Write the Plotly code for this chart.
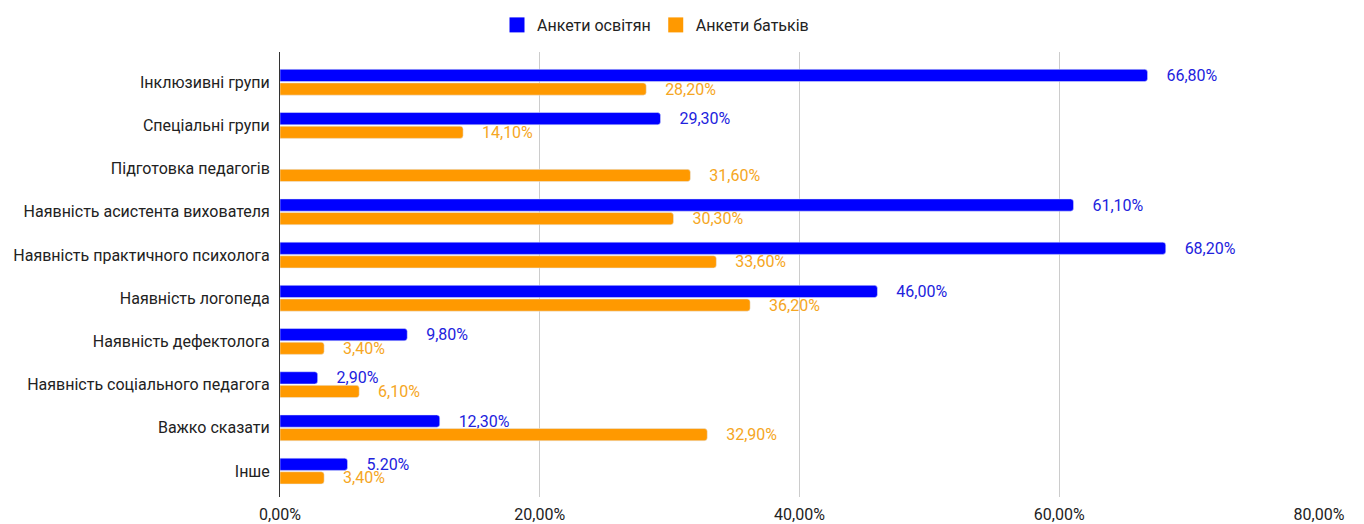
import plotly.graph_objects as go

categories = [
    "Інклюзивні групи",
    "Спеціальні групи",
    "Підготовка педагогів",
    "Наявність асистента вихователя",
    "Наявність практичного психолога",
    "Наявність логопеда",
    "Наявність дефектолога",
    "Наявність соціального педагога",
    "Важко сказати",
    "Інше",
]
teachers = [66.8, 29.3, None, 61.1, 68.2, 46.0, 9.8, 2.9, 12.3, 5.2]
teachers_text = ["66,80%", "29,30%", "", "61,10%", "68,20%", "46,00%", "9,80%", "2,90%", "12,30%", "5.20%"]
parents = [28.2, 14.1, 31.6, 30.3, 33.6, 36.2, 3.4, 6.1, 32.9, 3.4]
parents_text = ["28,20%", "14,10%", "31,60%", "30,30%", "33,60%", "36,20%", "3,40%", "6,10%", "32,90%", "3,40%"]
tick_values = [0, 20, 40, 60, 80]
tick_labels = ["0,00%", "20,00%", "40,00%", "60,00%", "80,00%"]

BLUE = "#0000ff"
ORANGE = "#ff9900"
pad = "\u00a0" * 4

fig = go.Figure()
fig.add_trace(
    go.Bar(
        y=categories,
        x=teachers,
        orientation="h",
        name="Анкети освітян",
        showlegend=False,
        marker={"color": BLUE, "cornerradius": 3},
        text=[pad + t if t else "" for t in teachers_text],
        textposition="outside",
        textfont={"color": "#2222dd", "size": 16},
        constraintext="none",
        cliponaxis=False,
    )
)
fig.add_trace(
    go.Bar(
        y=categories,
        x=parents,
        orientation="h",
        name="Анкети батьків",
        showlegend=False,
        marker={"color": ORANGE, "cornerradius": 3},
        text=[pad + t for t in parents_text],
        textposition="outside",
        textfont={"color": "#f5a623", "size": 16},
        constraintext="none",
        cliponaxis=False,
    )
)
# legend entries with larger square swatches
for name, color in [("Анкети освітян", BLUE), ("Анкети батьків", ORANGE)]:
    fig.add_trace(
        go.Scatter(
            x=[None],
            y=[None],
            mode="markers",
            name=name,
            marker={"symbol": "square", "size": 15, "color": color},
        )
    )

fig.update_layout(
    width=1364,
    height=524,
    margin={"l": 272, "r": 53, "t": 44, "b": 35},
    paper_bgcolor="white",
    plot_bgcolor="white",
    font={"family": "Roboto, Arial, sans-serif", "size": 16, "color": "#222222"},
    barmode="group",
    bargap=0.37,
    bargroupgap=0.1,
    showlegend=True,
    legend={
        "orientation": "h",
        "x": 489 / 1364,
        "xref": "container",
        "xanchor": "left",
        "y": 1.0,
        "yref": "container",
        "yanchor": "top",
        "font": {"size": 16, "color": "#222222"},
    },
    xaxis={
        "range": [0, 80],
        "tickvals": tick_values,
        "ticktext": tick_labels,
        "automargin": False,
        "showgrid": True,
        "gridcolor": "#cccccc",
        "zeroline": False,
        "showline": False,
        "ticks": "",
        "ticklabelstandoff": 6,
        "tickfont": {"size": 16, "color": "#222222"},
    },
    yaxis={
        "type": "category",
        "categoryorder": "array",
        "categoryarray": categories,
        "range": [9.6, -0.7],
        "automargin": False,
        "showline": True,
        "linecolor": "#333333",
        "linewidth": 1,
        "showgrid": False,
        "ticks": "",
        "ticklabelstandoff": 6,
        "tickfont": {"size": 16, "color": "#222222"},
    },
)

fig.write_html("out.html")
